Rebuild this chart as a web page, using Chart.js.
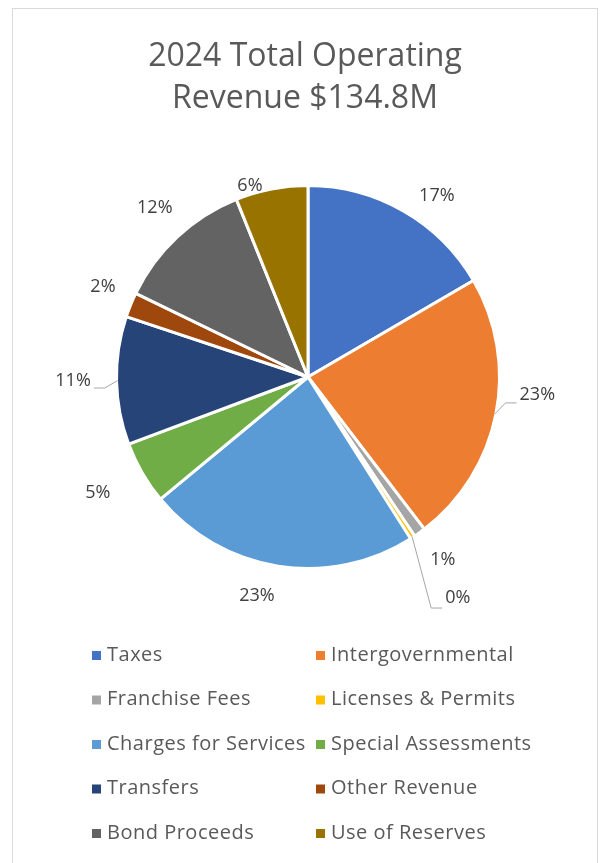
<!DOCTYPE html>
<html>
<head>
<meta charset="utf-8">
<script src="https://cdn.jsdelivr.net/npm/chart.js@4/dist/chart.umd.min.js"></script>
<style>
  html, body { margin: 0; padding: 0; background: #ffffff; }
  #c { display: block; }
</style>
</head>
<body>
<canvas id="c" width="605" height="863"></canvas>
<script>
// ---- data ----
const titleLines = ['2024 Total Operating', 'Revenue $134.8M'];
const categories = ['Taxes', 'Intergovernmental', 'Franchise Fees', 'Licenses & Permits',
  'Charges for Services', 'Special Assessments', 'Transfers', 'Other Revenue',
  'Bond Proceeds', 'Use of Reserves'];
const shares = [16.6, 23.0, 1.0, 0.4, 23.0, 5.3, 10.8, 2.1, 11.7, 6.1]; // percent of total
const colors = ['#4472C4', '#ED7D31', '#A5A5A5', '#FFC000', '#5B9BD5',
  '#70AD47', '#264478', '#9E480E', '#636363', '#997300'];

// ---- label layout (relative to each slice's mid-angle) ----
const labelShiftDeg = [5.6, -6.7, -0.8, -1.0, 4.1, 1.2, 0.1, 1.6, 0.8, -5.9];
const labelDist = [222, 230, 227, 267, 225, 240, 235, 224, 228, 200];
const labelLeader = [false, true, false, true, false, false, true, false, false, false];

const total = shares.reduce((a, b) => a + b, 0);

const decor = {
  id: 'decor',
  beforeDraw(chart) {
    const ctx = chart.ctx;
    ctx.save();
    ctx.fillStyle = '#ffffff';
    ctx.fillRect(0, 0, chart.width, chart.height);
    ctx.strokeStyle = '#d9d9d9';
    ctx.lineWidth = 1;
    ctx.strokeRect(12.5, 8.5, 585, 860);
    // title
    ctx.fillStyle = '#595959';
    ctx.font = '32px "Open Sans"';
    ctx.textAlign = 'center';
    ctx.textBaseline = 'alphabetic';
    ctx.fillText(titleLines[0], 305, 66);
    ctx.fillText(titleLines[1], 305, 108);
    ctx.restore();
  },
  afterDatasetsDraw(chart) {
    const ctx = chart.ctx;
    const meta = chart.getDatasetMeta(0);
    ctx.save();
    ctx.font = '18px "Open Sans"';
    ctx.textBaseline = 'middle';
    ctx.textAlign = 'center';
    meta.data.forEach((arc, i) => {
      const p = arc.getProps(['x', 'y', 'startAngle', 'endAngle', 'outerRadius'], true);
      const mid = (p.startAngle + p.endAngle) / 2;
      const a = mid + labelShiftDeg[i] * Math.PI / 180;
      const lx = p.x + labelDist[i] * Math.cos(a);
      const ly = p.y + labelDist[i] * Math.sin(a);
      const txt = Math.round(shares[i] / total * 100) + '%';
      const w = ctx.measureText(txt).width;
      if (labelLeader[i]) {
        const r = p.outerRadius - 1;
        const x0 = p.x + r * Math.cos(mid), y0 = p.y + r * Math.sin(mid);
        const right = lx > p.x;
        const edge = right ? lx - w / 2 - 3 : lx + w / 2 + 3;
        const dir = right ? -1 : 1;
        const yl = ly + (right ? (ly > p.y + 100 ? 10 : 8) : 7);
        ctx.strokeStyle = '#a6a6a6';
        ctx.lineWidth = 1;
        ctx.beginPath();
        ctx.moveTo(x0, y0);
        ctx.lineTo(edge + dir * 11, yl);
        ctx.lineTo(edge, yl);
        ctx.stroke();
      }
      ctx.fillStyle = '#404040';
      ctx.fillText(txt, lx, ly);
    });
    ctx.restore();

    // legend (two columns)
    ctx.save();
    ctx.font = '20px "Open Sans"';
    try { ctx.letterSpacing = '0.5px'; } catch (e) {}
    ctx.textBaseline = 'middle';
    ctx.textAlign = 'left';
    const colX = [92, 316];
    categories.forEach((name, i) => {
      const col = i % 2, row = Math.floor(i / 2);
      const y = 655 + row * 44.5;
      ctx.fillStyle = colors[i];
      ctx.fillRect(colX[col], y - 4, 9, 9);
      ctx.fillStyle = '#595959';
      ctx.fillText(name, colX[col] + 15, y);
    });
    ctx.restore();
  }
};

new Chart(document.getElementById('c'), {
  type: 'pie',
  data: {
    labels: categories,
    datasets: [{
      data: shares,
      backgroundColor: colors,
      borderColor: '#ffffff',
      borderWidth: 3
    }]
  },
  options: {
    responsive: false,
    animation: false,
    layout: { padding: { left: 115, right: 104, top: 184, bottom: 293 } },
    plugins: {
      legend: { display: false },
      title: { display: false },
      tooltip: { enabled: false }
    }
  },
  plugins: [decor]
});
</script>
</body>
</html>
